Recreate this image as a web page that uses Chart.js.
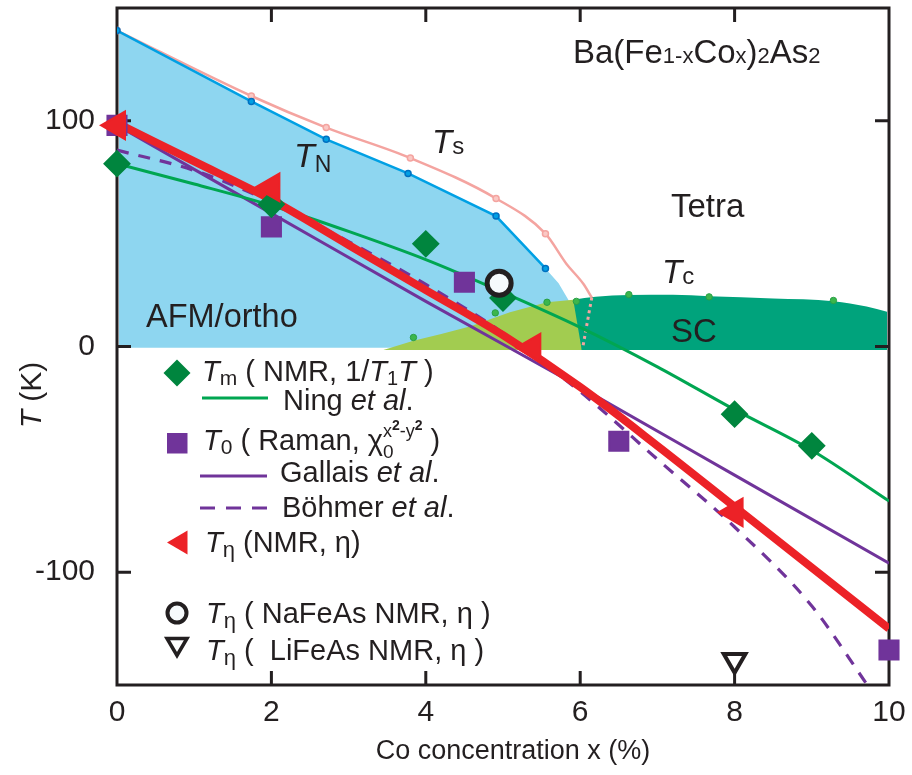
<!DOCTYPE html>
<html><head><meta charset="utf-8">
<script src="https://cdn.jsdelivr.net/npm/chart.js@4/dist/chart.umd.min.js"></script>
<style>html,body{margin:0;padding:0;background:#fff}#wrap{width:912px;height:775px}</style>
</head><body><div id="wrap"><canvas id="c" width="912" height="775"></canvas></div>
<script>
// ---------- data ----------
const X_TICKS = [0, 2, 4, 6, 8, 10];
const Y_TICKS = [-100, 0, 100];

// T_N (AFM) boundary
const tnX = [0, 1.74, 2.71, 3.77, 4.91, 5.55];
const tnT = [140, 108.6, 91.8, 76.7, 57.8, 34.6];
// end of the AFM region beyond the last T_N point
const afmEdgeX = [5.72, 5.85, 5.9];
const afmEdgeT = [28, 20.5, -0.5];
// T_s (structural)
const tsX = [0, 1.74, 2.71, 3.8, 4.91, 5.55];
const tsT = [140, 111, 97, 83.5, 65.6, 50];
const tsTailX = [5.82, 6.04, 6.15];
const tsTailT = [36.7, 27.8, 21.7];
const tsDotX = [6.15, 6.03];
const tsDotT = [21.7, -1];
// SC dome, coexistence part (light green) and SC part (dark green)
const scUnderX = [3.45, 3.84, 4.2, 4.57, 5.09, 5.57, 5.91, 6.02];
const scUnderT = [-1.5, 2.5, 5.5, 8.9, 15.2, 19.6, 20.7, -1.5];
const scX = [5.91, 6.2, 6.63, 7.2, 7.67, 8.5, 9.28, 9.71, 10];
const scT = [20.7, 22, 22.8, 22.9, 22.3, 21.3, 20.1, 17.7, 15.2];
const tcX = [3.84, 4.9, 5.57, 5.95, 6.63, 7.67, 9.28];
const tcT = [4, 14.9, 19.6, 20, 23, 22, 20.4];
// T_m (NMR 1/T1T) and Ning et al. fit
const tmX = [0, 2, 4, 5, 8, 9];
const tmT = [81, 63, 45.5, 21.5, -30, -44];
const ningX = [0, 1, 2, 3, 4, 5, 6, 7, 8, 9, 10];
const ningT = [81, 72, 62.5, 51, 38.5, 24, 8.5, -9, -28, -46, -68.5];
// T_0 (Raman), Gallais et al., Bohmer et al.
const t0X = [0, 2, 4.5, 6.5, 10];
const t0T = [98, 53, 28.5, -42, -134.5];
const gallaisX = [0, 2, 4, 6, 8, 10];
const gallaisT = [98, 59, 20, -18, -57, -96];
const bohmerX = [0, 1, 2, 3, 4, 5, 6, 7, 8, 9, 9.72];
const bohmerT = [87, 78, 64, 46.5, 27.5, 6, -20, -50, -80, -115, -150];
// T_eta (NMR eta) points and fit
const tetaX = [0, 2, 5.38, 8];
const tetaT = [98, 70.5, -0.5, -73.5];
const etaFitX = [0, 1, 2, 3, 4, 5, 6, 7, 8, 9, 10];
const etaFitT = [99, 82, 65, 45, 25, 5, -18, -44, -71, -98, -125];
// NaFeAs and LiFeAs
const nafeasX = [4.95];
const nafeasT = [28];
const lifeasX = [8];
const lifeasT = [-139];

// ---------- styling ----------
const INK = '#231f20';
const FONT = '"Liberation Sans", Arial, Helvetica, sans-serif';
const BLUE_FILL = 'rgb(142,214,240)';
const TN_LINE = 'rgb(0,160,228)';
const TN_PT = 'rgb(0,112,192)';
const TS_LINE = 'rgb(244,164,160)';
const LG = 'rgb(162,204,80)';
const DG = 'rgb(0,163,124)';
const TC_PT = 'rgb(60,182,76)';
const DIAM = 'rgb(0,133,62)';
const NING = 'rgb(0,166,81)';
const PURPLE = 'rgb(112,52,154)';
const RED = 'rgb(236,34,39)';

const pts = (xs, ys) => xs.map((x, i) => ({x: x, y: ys[i]}));

const datasets = [
  // fills (drawn first: highest order)
  {key: 'afm', data: pts(tnX.concat(afmEdgeX), tnT.concat(afmEdgeT)), fill: {value: -0.5},
   backgroundColor: BLUE_FILL, borderWidth: 0, pointRadius: 0, tension: 0, order: 100, clip: -2},
  {key: 'sc', data: pts(scX, scT), fill: {value: -1.5}, backgroundColor: DG, borderWidth: 0,
   pointRadius: 0, cubicInterpolationMode: 'monotone', order: 99, clip: -2},
  {key: 'scUnder', data: pts(scUnderX, scUnderT), fill: {value: -1.5}, backgroundColor: LG,
   borderWidth: 0, pointRadius: 0, tension: 0, order: 98, clip: -2},
  // phase lines
  {key: 'ts', data: pts(tsX.concat(tsTailX), tsT.concat(tsTailT)), borderColor: TS_LINE, borderWidth: 2.5,
   cubicInterpolationMode: 'monotone', pointRadius: c => c.dataIndex < tsX.length ? 3 : 0,
   pointBackgroundColor: 'rgb(250,200,196)', pointBorderColor: TS_LINE, pointBorderWidth: 1.5, fill: false, order: 80},
  {key: 'tsDot', data: pts(tsDotX, tsDotT), borderColor: TS_LINE, borderWidth: 3, borderDash: [3, 3.5],
   pointRadius: 0, fill: false, order: 79},
  {key: 'tn', data: pts(tnX, tnT), borderColor: TN_LINE, borderWidth: 2.5, tension: 0, pointRadius: 3,
   pointBackgroundColor: TN_LINE, pointBorderColor: TN_PT, pointBorderWidth: 1.5, fill: false, order: 78},
  {key: 'tc', data: pts(tcX, tcT), showLine: false, pointRadius: 3.2, pointBackgroundColor: TC_PT,
   pointBorderColor: 'rgb(40,160,70)', pointBorderWidth: 1, order: 77},
  // model curves
  {key: 'bohmer', data: pts(bohmerX, bohmerT), borderColor: PURPLE, borderWidth: 3.2, borderDash: [12, 10],
   cubicInterpolationMode: 'monotone', pointRadius: 0, fill: false, order: 60},
  {key: 'gallais', data: pts(gallaisX, gallaisT), borderColor: PURPLE, borderWidth: 3,
   cubicInterpolationMode: 'monotone', pointRadius: 0, fill: false, order: 59},
  {key: 'ning', data: pts(ningX, ningT), borderColor: NING, borderWidth: 3,
   cubicInterpolationMode: 'monotone', pointRadius: 0, fill: false, order: 58},
  {key: 'etaFit', data: pts(etaFitX, etaFitT), borderColor: RED, borderWidth: 8,
   cubicInterpolationMode: 'monotone', pointRadius: 0, fill: false, order: 57},
  // markers
  {key: 't0', data: pts(t0X, t0T), showLine: false, pointStyle: 'rect', pointRadius: 13.5,
   pointBackgroundColor: PURPLE, pointBorderColor: PURPLE, pointBorderWidth: 2, clip: false, order: 12},
  {key: 'tm', data: pts(tmX, tmT), showLine: false, pointStyle: 'rectRot', pointRadius: 12.5,
   pointBackgroundColor: DIAM, pointBorderColor: DIAM, pointBorderWidth: 2, clip: false, order: 11},
  {key: 'teta', data: pts(tetaX, tetaT), showLine: false, pointStyle: 'triangle', rotation: -90, pointRadius: 16,
   pointBackgroundColor: RED, pointBorderColor: RED, pointBorderWidth: 2, clip: false, order: 10},
  {key: 'lifeas', data: pts(lifeasX, lifeasT), showLine: false, pointStyle: 'triangle', rotation: 180,
   pointRadius: 12.5, pointBackgroundColor: '#ffffff', pointBorderColor: INK, pointBorderWidth: 4, clip: false, order: 2},
  {key: 'nafeas', data: pts(nafeasX, nafeasT), showLine: false, pointStyle: 'circle', pointRadius: 12,
   pointBackgroundColor: '#f6fafc', pointBorderColor: INK, pointBorderWidth: 5, clip: false, order: 1}
];

// ---------- text helpers ----------
function runs(ctx, list, x, y) {
  let cx = x;
  for (const r of list) {
    const t = r[0], size = r[1], o = r[2] || {};
    ctx.font = (o.italic ? 'italic ' : '') + (o.bold ? 'bold ' : '') + size + 'px ' + FONT;
    ctx.fillText(t, cx, y + (o.dy || 0));
    cx += ctx.measureText(t).width + (o.dx || 0);
  }
  return cx;
}
const IT = {italic: true};

const framePlugin = {
  id: 'frame',
  afterDatasetDraw(chart, args) {
    if (chart.data.datasets[args.index].key !== 'scUnder') return;
    const ctx = chart.ctx, a = chart.chartArea;
    const xs = chart.scales.x, ys = chart.scales.y;
    ctx.save();
    ctx.strokeStyle = INK; ctx.lineWidth = 3;
    ctx.strokeRect(a.left, a.top, a.right - a.left, a.bottom - a.top);
    ctx.beginPath();
    for (const v of X_TICKS.slice(1, -1)) {
      const px = xs.getPixelForValue(v);
      ctx.moveTo(px, a.bottom); ctx.lineTo(px, a.bottom - 14);
      ctx.moveTo(px, a.top); ctx.lineTo(px, a.top + 14);
    }
    for (const v of Y_TICKS) {
      const py = ys.getPixelForValue(v);
      ctx.moveTo(a.left, py); ctx.lineTo(a.left + 14, py);
      ctx.moveTo(a.right, py); ctx.lineTo(a.right - 14, py);
    }
    ctx.stroke();
    ctx.restore();
  },
  afterDatasetsDraw(chart) {
    const ctx = chart.ctx;
    ctx.save();
    ctx.fillStyle = INK;
    ctx.textBaseline = 'alphabetic';
    ctx.textAlign = 'left';
    // annotations
    runs(ctx, [['Ba(Fe', 33], ['1-x', 22], ['Co', 33], ['x', 22], [')', 33], ['2', 22], ['As', 33], ['2', 22]], 573, 63);
    runs(ctx, [['T', 34, IT], ['N', 23, {dy: 5}]], 294, 167);
    runs(ctx, [['T', 33, IT], ['s', 24, {dy: 1}]], 432, 153);
    runs(ctx, [['T', 33, IT], ['c', 24, {dy: 1}]], 662, 283);
    runs(ctx, [['Tetra', 33]], 671, 217);
    runs(ctx, [['SC', 33]], 671, 342);
    runs(ctx, [['AFM/ortho', 32.5]], 146, 327);

    // legend block
    const L = 29;
    // row 1 diamond
    ctx.fillStyle = DIAM;
    ctx.beginPath(); ctx.moveTo(177, 359.5); ctx.lineTo(190.5, 373); ctx.lineTo(177, 386.5); ctx.lineTo(163.5, 373); ctx.closePath(); ctx.fill();
    ctx.fillStyle = INK;
    runs(ctx, [['T', L, IT], ['m', 21, {dy: 4}], [' ( NMR, 1/', L], ['T', L, IT], ['1', 20, {dy: 4}], ['T', L, IT], [' )', L]], 202, 381);
    // row 2 Ning line
    ctx.strokeStyle = NING; ctx.lineWidth = 3;
    ctx.beginPath(); ctx.moveTo(202, 398); ctx.lineTo(268, 398); ctx.stroke();
    runs(ctx, [['Ning ', L], ['et al', L, IT], ['.', L]], 283, 410);
    // row 3 square
    ctx.fillStyle = PURPLE; ctx.fillRect(167, 433, 20.5, 20.5);
    ctx.fillStyle = INK;
    let cx = runs(ctx, [['T', L, IT], ['0', 21, {dy: 4}], [' ( Raman, ', L], ['\u03C7', L]], 203, 450);
    const supEnd = runs(ctx, [['x', 18, {dy: -13}], ['2', 14, {dy: -20, bold: true}], ['-y', 18, {dy: -13}], ['2', 14, {dy: -20, bold: true}]], cx, 450);
    runs(ctx, [['0', 19, {dy: 8}]], cx, 450);
    runs(ctx, [[' )', L]], supEnd, 450);
    // row 4 Gallais
    ctx.strokeStyle = PURPLE; ctx.lineWidth = 3;
    ctx.beginPath(); ctx.moveTo(200, 476); ctx.lineTo(267, 476); ctx.stroke();
    runs(ctx, [['Gallais ', L], ['et al', L, IT], ['.', L]], 280, 482);
    // row 5 Bohmer
    ctx.setLineDash([15, 11]);
    ctx.beginPath(); ctx.moveTo(200, 508); ctx.lineTo(267, 508); ctx.stroke();
    ctx.setLineDash([]);
    runs(ctx, [['B\u00F6hmer ', L], ['et al', L, IT], ['.', L]], 282, 517);
    // row 6 red triangle
    ctx.fillStyle = RED;
    ctx.beginPath(); ctx.moveTo(167, 542.5); ctx.lineTo(187.5, 530.5); ctx.lineTo(187.5, 554.5); ctx.closePath(); ctx.fill();
    ctx.fillStyle = INK;
    runs(ctx, [['T', L, IT], ['\u03B7', 22, {dy: 5}], [' (NMR, \u03B7)', L]], 205, 552);
    // row 7 open circle
    ctx.strokeStyle = INK; ctx.lineWidth = 4;
    ctx.fillStyle = '#f6fafc';
    ctx.beginPath(); ctx.arc(177, 613, 9.5, 0, Math.PI * 2); ctx.fill(); ctx.stroke();
    ctx.fillStyle = INK;
    runs(ctx, [['T', L, IT], ['\u03B7', 22, {dy: 5}], [' ( NaFeAs NMR, \u03B7 )', L]], 206, 623);
    // row 8 open down triangle
    ctx.lineWidth = 3.5; ctx.lineJoin = 'miter';
    ctx.beginPath(); ctx.moveTo(167, 638.5); ctx.lineTo(187, 638.5); ctx.lineTo(177, 655.5); ctx.closePath(); ctx.stroke();
    runs(ctx, [['T', L, IT], ['\u03B7', 22, {dy: 5}], [' (  LiFeAs NMR, \u03B7 )', L]], 206, 660);

    // axis titles
    ctx.textAlign = 'center';
    ctx.font = '27px ' + FONT;
    ctx.fillText('Co concentration x (%)', 513, 759);
    ctx.translate(41, 395);
    ctx.rotate(-Math.PI / 2);
    ctx.textAlign = 'left';
    ctx.font = 'italic 30px ' + FONT;
    const w1 = ctx.measureText('T').width;
    ctx.font = '30px ' + FONT;
    const w2 = ctx.measureText(' (K)').width;
    runs(ctx, [['T', 30, IT], [' (K)', 30]], -(w1 + w2) / 2, 0);
    ctx.restore();
  }
};

Chart.defaults.font.family = FONT;
new Chart(document.getElementById('c'), {
  type: 'line',
  data: {datasets: datasets},
  plugins: [framePlugin],
  options: {
    responsive: false,
    animation: false,
    events: [],
    layout: {autoPadding: false, padding: {left: 0, top: 8, right: 23, bottom: 0}},
    plugins: {legend: {display: false}, tooltip: {enabled: false}, title: {display: false}},
    scales: {
      x: {
        type: 'linear', min: 0, max: 10,
        grid: {display: false, drawTicks: false}, border: {display: false},
        ticks: {font: {size: 30}, color: INK, padding: 10, maxRotation: 0, autoSkip: false,
                callback: v => String(v)},
        afterBuildTicks: s => { s.ticks = X_TICKS.map(v => ({value: v})); },
        afterFit: s => { s.height = 90; s.paddingLeft = 0; s.paddingRight = 0; }
      },
      y: {
        type: 'linear', min: -150, max: 150,
        grid: {display: false, drawTicks: false}, border: {display: false},
        ticks: {font: {size: 30, lineHeight: 0.4}, color: INK, padding: 22, autoSkip: false, callback: v => String(v)},
        afterBuildTicks: s => { s.ticks = Y_TICKS.map(v => ({value: v})); },
        afterFit: s => { s.width = 117; s.paddingTop = 0; s.paddingBottom = 0; }
      }
    }
  }
});
</script></body></html>
